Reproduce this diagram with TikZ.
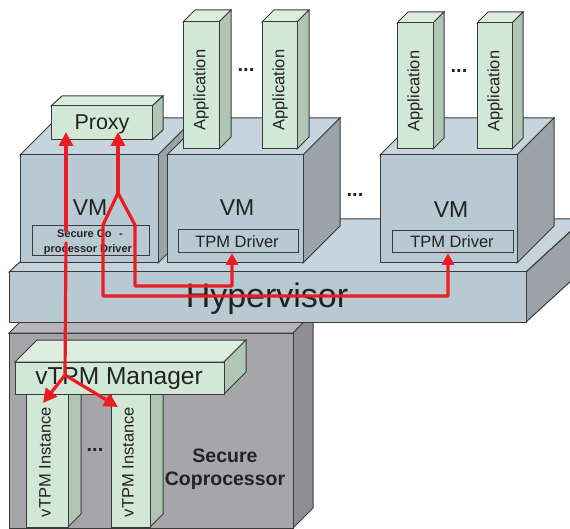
\documentclass[tikz,border=0pt]{standalone}
\usepackage{fontspec}
\setmainfont{Liberation Sans}
\usetikzlibrary{arrows.meta}
\definecolor{edgec}{HTML}{3A3A3A}
\definecolor{blueF}{HTML}{B8C9D3}
\definecolor{blueT}{HTML}{C6D5DD}
\definecolor{blueR}{HTML}{9BA3A9}
\definecolor{greenF}{HTML}{D2E8D6}
\definecolor{greenT}{HTML}{DDEEE0}
\definecolor{greenR}{HTML}{B0C6B5}
\definecolor{grayF}{HTML}{A6A6AA}
\definecolor{grayT}{HTML}{B6B6BA}
\definecolor{grayR}{HTML}{8E8E93}
\definecolor{arrred}{HTML}{EC1C24}
\definecolor{txt}{HTML}{222222}
\newcommand\fsz[1]{\fontsize{#1}{#1}\selectfont}
% #1 name, #2 x1, #3 y1, #4 x2, #5 y2, #6 dx, #7 dy, #8 colour prefix
\newcommand\drawbox[8]{%
  \filldraw[edge,fill=#8T] (#2,#3) -- (#2+#6,#3-#7) -- (#4+#6,#3-#7) -- (#4,#3) -- cycle;
  \filldraw[edge,fill=#8R] (#4,#3) -- (#4+#6,#3-#7) -- (#4+#6,#5-#7) -- (#4,#5) -- cycle;
  \filldraw[edge,fill=#8F] (#2,#3) rectangle (#4,#5);
  \coordinate (#1) at (#2/2+#4/2,#3/2+#5/2);
}
\tikzset{
  edge/.style={draw=edgec, line width=1pt, line join=miter},
  lbl/.style={inner sep=0pt, text=txt},
  drvbox/.style={draw=edgec, line width=1pt, fill=blueF},
  redln/.style={draw=arrred, line width=3.2pt, line join=round, line cap=round},
  redthick/.style={redln, line width=4.6pt},
  tipS/.style={-{Triangle[length=12pt,width=12pt]}},
  tipL/.style={-{Triangle[length=14pt,width=14pt]}},
}
\begin{document}
\begin{tikzpicture}[x=1pt,y=-1pt]
\useasboundingbox (0,0) rectangle (570,529);
\clip (0,0) rectangle (570,529);
% secure coprocessor
\drawbox{scp}{9}{333}{293}{528}{20}{20}{gray}
\drawbox{inst1}{26}{385}{68}{527}{13}{13}{green}
\drawbox{inst2}{111}{385}{150}{527}{13}{13}{green}
\drawbox{mgr}{15}{362}{224}{394}{22}{22}{green}
% hypervisor
\drawbox{hyp}{9}{272}{526}{322}{58}{53}{blue}
% VMs
\drawbox{vm1}{20}{155}{158}{263}{37}{37}{blue}
\drawbox{vm2}{167}{155}{303}{263}{37}{37}{blue}
\drawbox{vm3}{380}{155}{517}{263}{37}{37}{blue}
\drawbox{proxy}{51}{106}{152}{140}{11}{10}{green}
\drawbox{app1}{183}{22}{219}{149}{12}{12}{green}
\drawbox{app2}{262}{22}{297}{149}{12}{12}{green}
\drawbox{app3}{397}{23}{433}{149}{11}{11}{green}
\drawbox{app4}{477}{23}{512}{149}{11}{11}{green}
% driver boxes
\draw[drvbox] (32,226) rectangle (149,256);
\draw[drvbox] (178,230) rectangle (298,253);
\draw[drvbox] (392,231) rectangle (513,253);
% texts
\node[lbl, font=\fsz{21.5}] (proxyT) at (102,124) {Proxy};
\node[lbl, font=\fsz{23}] (vm1T) at (90,208) {VM};
\node[lbl, font=\fsz{23}] (vm2T) at (237,208) {VM};
\node[lbl, font=\fsz{23}] (vm3T) at (451,210) {VM};
\node[lbl, font=\fsz{16.5}] (drv2T) at (237,242) {TPM Driver};
\node[lbl, font=\fsz{16.5}] (drv3T) at (452,242) {TPM Driver};
\node[lbl, font=\bfseries\fsz{11}] (scd1) at (90,234) {Secure Co\hspace{0.7em}-};
\node[lbl, font=\bfseries\fsz{11}] (scd2) at (88,250) {processor Driver};
\node[lbl, font=\fsz{34}] (hypT) at (267,299) {Hypervisor};
\node[lbl, font=\fsz{24.5}] (mgrT) at (119,379) {vTPM Manager};
\node[lbl, font=\fsz{16.5}, rotate=90] (i1T) at (45,462) {vTPM Instance};
\node[lbl, font=\fsz{16.5}, rotate=90] (i2T) at (128,462) {vTPM Instance};
\node[lbl, font=\fsz{16.5}, rotate=90] (a1T) at (201,90) {Application};
\node[lbl, font=\fsz{16.5}, rotate=90] (a2T) at (280,90) {Application};
\node[lbl, font=\fsz{16.5}, rotate=90] (a3T) at (415,91) {Application};
\node[lbl, font=\fsz{16.5}, rotate=90] (a4T) at (495,91) {Application};
\node[lbl, font=\bfseries\fsz{20}] (d1) at (246,70) {...};
\node[lbl, font=\bfseries\fsz{20}] (d2) at (459,71) {...};
\node[lbl, font=\bfseries\fsz{20}] (d3) at (355,195) {...};
\node[lbl, font=\bfseries\fsz{20}] (d4) at (95,450) {...};
\node[lbl, font=\bfseries\fsz{19.5}, align=center] (scpT) at (225,469) {Secure\\[3pt]Coprocessor};
% red connectors
\coordinate (pL) at (66,132);
\coordinate (pR) at (118,132);
\coordinate (sA) at (66,230);
\coordinate (sB) at (66,243);
\coordinate (mS) at (65,375);
\coordinate (iL) at (43,403);
\coordinate (iR) at (118,407);
\coordinate (sp) at (118,193);
\coordinate (bL) at (103,225);
\coordinate (bR) at (135,225);
\coordinate (bL2) at (103,296);
\coordinate (bR2) at (135,286);
\coordinate (c3) at (448,296);
\coordinate (c2) at (232,286);
\coordinate (t3) at (448,253);
\coordinate (t2) at (232,253);
\draw[redthick, tipL] (sA) -- (pL);
\draw[redthick, tipL] (sp) -- (pR);
\draw[redln] (sB) -- (mS);
\draw[redln, tipL] (mS) -- (iL);
\draw[redln, tipL] (mS) -- (iR);
\draw[redln, tipS] (sp) -- (bL) -- (bL2) -- (c3) -- (t3);
\draw[redln, tipS] (sp) -- (bR) -- (bR2) -- (c2) -- (t2);
\end{tikzpicture}
\end{document}
